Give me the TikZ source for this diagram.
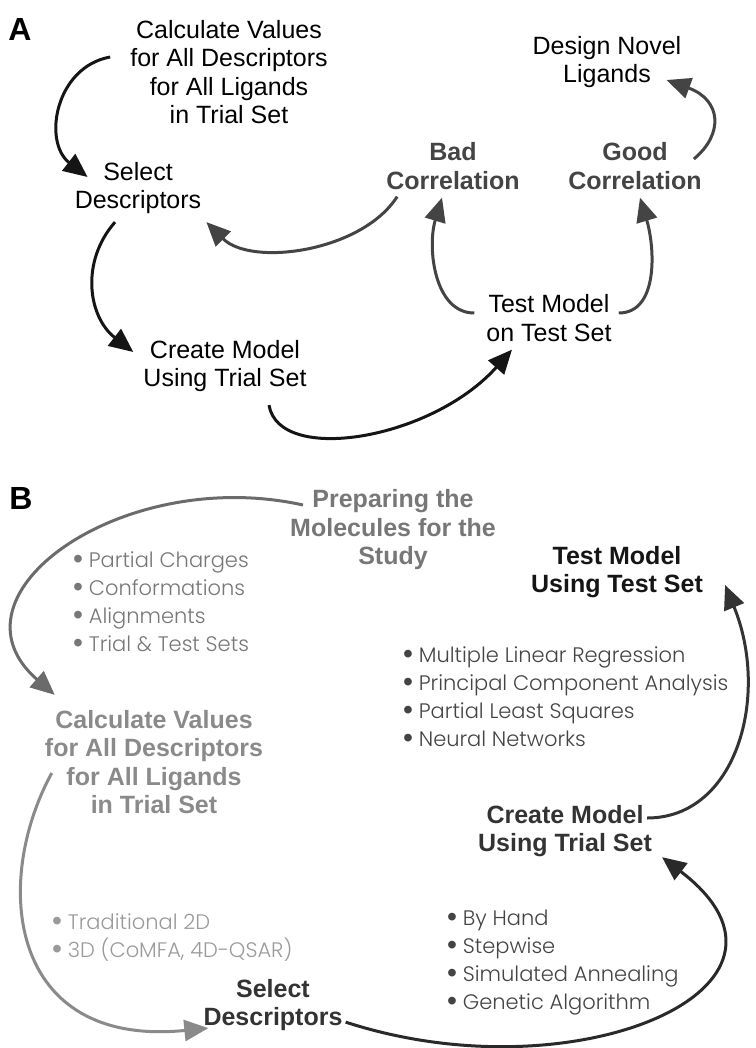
\documentclass[tikz,border=0pt]{standalone}
\usepackage{fontspec}
\setmainfont{Liberation Sans}
\newfontfamily\listfont{Poppins}[UprightFont={* Light}]
\usetikzlibrary{arrows.meta,calc}

\definecolor{inkA}{HTML}{151515}
\definecolor{greyA}{HTML}{444444}
\definecolor{prepC}{HTML}{777777}
\definecolor{calcC}{HTML}{8A8A8A}
\definecolor{listC}{HTML}{9A9A9A}
\definecolor{darkC}{HTML}{333333}

% bullet taken from the main font, a bit enlarged
\newcommand{\bul}{{\rmfamily\raisebox{-0.6bp}{\scalebox{1.35}{•}}}}

\tikzset{
  lbl/.style={align=center, inner sep=2bp, font=\fontsize{25bp}{28.5bp}\selectfont},
  lblb/.style={lbl, font=\fontsize{25bp}{28.5bp}\selectfont\bfseries},
  itemlist/.style={align=left, anchor=west, inner sep=0pt, font=\listfont\fontsize{21bp}{28bp}\selectfont},
  panel/.style={inner sep=0pt, font=\fontsize{32bp}{34bp}\selectfont\bfseries},
  flow/.style={line width=3bp, -{Triangle[length=24bp,width=21bp]}},
}

\begin{document}
\begin{tikzpicture}[x=1bp, y=-1bp]
    \useasboundingbox (0,0) rectangle (756,1048);

    % --- Panel A: labels ---
    \node[panel] (labA) at (20,29) {A};
    \node[lbl] (calcA) at (229,72) {Calculate Values\\for All Descriptors\\for All Ligands\\in Trial Set};
    \node[lbl] (selA) at (138,188) {Select\\Descriptors};
    \node[lbl] (createA) at (225,366) {Create Model\\Using Trial Set};
    \node[lbl] (testA) at (549,318) {Test Model\\on Test Set};
    \node[lblb, text=greyA] (badA) at (453,166) {Bad\\Correlation};
    \node[lblb, text=greyA] (goodA) at (635,166) {Good\\Correlation};
    \node[lbl] (designA) at (607,62) {Design Novel\\Ligands};

    % --- Panel A: arrows ---
    \draw[flow, color=inkA] ($(calcA.west)+(-18,-15)$) .. controls +(-55,10) and +(-45,-35) .. ($(selA.west)+(15,-11)$);
    \draw[flow, color=inkA] ($(selA.south)+(-23,6)$) .. controls +(-35,40) and +(-45,-35) .. ($(createA.west)+(-8,-14)$);
    \draw[flow, color=inkA] ($(createA.south)+(44,11)$) .. controls +(10,60) and +(-80,90) .. ($(testA.south)+(-37,6)$);
    \draw[flow, color=greyA] ($(badA.south west)+(13,5)$) .. controls +(-35,55) and +(45,45) .. ($(selA.south east)+(3,6)$);
    \draw[flow, color=greyA] ($(testA.west)+(-10,-5)$) .. controls +(-40,0) and +(-15,50) .. ($(badA.south)+(-11,6)$);
    \draw[flow, color=greyA] ($(testA.east)+(5,-5)$) .. controls +(40,0) and +(15,50) .. ($(goodA.south)+(5,6)$);
    \draw[flow, color=greyA] ($(goodA.east)+(-10,-7)$) .. controls +(30,-25) and +(55,20) .. ($(designA.east)+(-17,18)$);

    % --- Panel B: labels ---
    \node[panel] (labB) at (21,498) {B};
    \node[lblb, text=prepC] (prepB) at (393,530) {Preparing the\\Molecules for the\\Study};
    \node[itemlist, text=prepC] (listPrep) at (73,602) {\bul{} Partial Charges\\\bul{} Conformations\\\bul{} Alignments\\\bul{} Trial \& Test Sets};
    \node[lblb, text=calcC] (calcB) at (154,762) {Calculate Values\\for All Descriptors\\for All Ligands\\in Trial Set};
    \node[itemlist, text=listC] (listDesc) at (52,938) {\bul{} Traditional 2D\\\bul{} 3D (CoMFA, 4D-QSAR)};
    \node[lblb, text=darkC] (selB) at (273,1005) {Select\\Descriptors};
    \node[itemlist, text=greyA] (listSel) at (447,963) {\bul{} By Hand\\\bul{} Stepwise\\\bul{} Simulated Annealing\\\bul{} Genetic Algorithm};
    \node[lblb, text=darkC] (createB) at (565,831) {Create Model\\Using Trial Set};
    \node[itemlist, text=greyA] (listModel) at (403,697) {\bul{} Multiple Linear Regression\\\bul{} Principal Component Analysis\\\bul{} Partial Least Squares\\\bul{} Neural Networks};
    \node[lblb, text=inkA] (testB) at (617,572) {Test Model\\Using Test Set};

    % --- Panel B: arrows ---
    \draw[flow, color=prepC!90!black] ($(prepB.west)+(15,-25)$) .. controls +(-180,-40) and +(-115,-100) .. ($(calcB.north west)+(12,-13)$);
    \draw[flow, color=calcC] ($(calcB.west)+(9,11)$) .. controls +(-60,110) and +(-200,20) .. ($(selB.south west)+(7,-5)$);
    \draw[flow, color=darkC!80!black] ($(selB.south east)+(1,-11)$) .. controls +(230,75) and +(170,130) .. ($(createB.south east)+(8,-2)$);
    \draw[flow, color=darkC] ($(createB.east)+(-7,-13)$) .. controls +(90,0) and +(45,110) .. ($(testB.east)+(20,13)$);
\end{tikzpicture}
\end{document}
